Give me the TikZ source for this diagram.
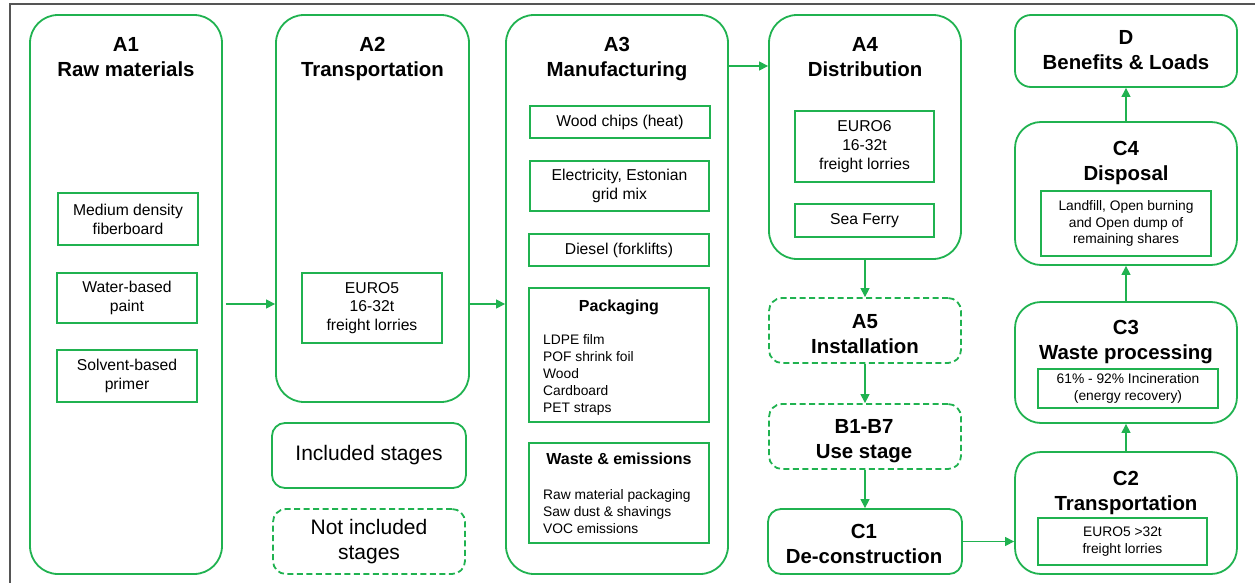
\documentclass[tikz,border=0pt]{standalone}
\usepackage{fontspec}
\setmainfont{Liberation Sans}
\usetikzlibrary{arrows.meta,calc}
\definecolor{grn}{RGB}{32,178,80}
\definecolor{framec}{RGB}{85,85,85}
\begin{document}
\begin{tikzpicture}[x=1pt,y=-1pt,
  bigbox/.style={draw=grn, line width=1.8pt, rounded corners=28pt, inner sep=0pt},
  midbox/.style={draw=grn, line width=1.8pt, rounded corners=13pt, inner sep=0pt},
  dashbox/.style={midbox, dash pattern=on 6pt off 3.5pt},
  inbox/.style={draw=grn, line width=1.8pt, inner sep=0pt, align=center, font=\fontsize{15.7}{18.8}\selectfont},
  inboxs/.style={draw=grn, line width=1.8pt, inner sep=0pt, align=center, font=\fontsize{13.8}{16.8}\selectfont},
  ttl/.style={font=\fontsize{20.4}{25}\selectfont\bfseries, align=center, anchor=base, inner sep=0pt},
  subttl/.style={font=\fontsize{16}{19}\selectfont\bfseries, anchor=base, inner sep=0pt},
  lst/.style={font=\fontsize{13.8}{16.8}\selectfont, align=left, anchor=base west, inner sep=0pt},
  legtxt/.style={font=\fontsize{21}{25}\selectfont, align=center},
  arr/.style={draw=grn, line width=1.2pt, -{Triangle[length=9pt,width=9pt]}}
]
\useasboundingbox (0,0) rectangle (1255,583);
\draw[framec, line width=2.2pt] (10,583) -- (10,4) -- (1255,4);

% big boxes
\node[bigbox, minimum width=192pt, minimum height=559pt] (A1) at (126,294.5) {};
\node[bigbox, minimum width=193pt, minimum height=387pt] (A2) at (372.5,208.5) {};
\node[bigbox, minimum width=222pt, minimum height=559pt] (A3) at (617,294.5) {};
\node[bigbox, minimum width=192pt, minimum height=244pt] (A4) at (865,137) {};
\node[dashbox, minimum width=192pt, minimum height=65pt] (A5) at (865,330.5) {};
\node[dashbox, minimum width=192pt, minimum height=65pt] (B) at (865,436.5) {};
\node[midbox, minimum width=194pt, minimum height=65pt] (C1) at (865,541.5) {};
\node[midbox, rounded corners=16pt, minimum width=222pt, minimum height=72pt] (D) at (1126,51) {};
\node[bigbox, rounded corners=26pt, minimum width=222pt, minimum height=143pt] (C4) at (1126,193.5) {};
\node[bigbox, rounded corners=26pt, minimum width=222pt, minimum height=121pt] (C3) at (1126,362.5) {};
\node[bigbox, rounded corners=26pt, minimum width=222pt, minimum height=122pt] (C2) at (1126,513) {};

% legend
\node[midbox, legtxt, minimum width=194pt, minimum height=65pt] (inc) at (369,455.5) {Included stages};
\node[dashbox, legtxt, minimum width=192pt, minimum height=65pt] (ninc) at (369,541.5) {Not included\\stages};

% titles (anchored at the baseline of their last line)
\node[ttl] (tA1) at (126,77) {A1\\Raw materials};
\node[ttl] (tA2) at (372.5,77) {A2\\Transportation};
\node[ttl] (tA3) at (617,77) {A3\\Manufacturing};
\node[ttl] (tA4) at (865,77) {A4\\Distribution};
\node[ttl] (tA5) at (865,353) {A5\\Installation};
\node[ttl] (tB) at (864,458) {B1-B7\\Use stage};
\node[ttl] (tC1) at (864,563) {C1\\De-construction};
\node[ttl] (tD) at (1126,70) {D\\Benefits \& Loads};
\node[ttl] (tC4) at (1126,180) {C4\\Disposal};
\node[ttl] (tC3) at (1126,359) {C3\\Waste processing};
\node[ttl] (tC2) at (1126,510) {C2\\Transportation};

% inner boxes
\node[inbox, minimum width=140pt, minimum height=52pt] (md) at (128,219) {Medium density\\fiberboard};
\node[inbox, minimum width=140pt, minimum height=50pt] (wb) at (127,298) {Water-based\\paint};
\node[inbox, minimum width=140pt, minimum height=52pt] (sb) at (127,376) {Solvent-based\\primer};
\node[inbox, minimum width=140pt, minimum height=70pt] (a2in) at (372,308) {EURO5\\16-32t\\freight lorries};
\node[inbox, minimum width=180pt, minimum height=32pt] (wc) at (620,122) {Wood chips (heat)};
\node[inbox, minimum width=179pt, minimum height=50pt] (el) at (619.5,186) {Electricity, Estonian\\grid mix};
\node[inbox, minimum width=180pt, minimum height=32pt] (di) at (619,250) {Diesel (forklifts)};
\node[inbox, minimum width=180pt, minimum height=134pt] (pk) at (619,355) {};
\node[subttl] (pkh) at (619,311) {Packaging};
\node[lst] (pkl) at (543,412) {LDPE film\\POF shrink foil\\Wood\\Cardboard\\PET straps};
\node[inbox, minimum width=180pt, minimum height=100pt] (we) at (619,493) {};
\node[subttl] (weh) at (619,464) {Waste \& emissions};
\node[lst] (wel) at (543,533) {Raw material packaging\\Saw dust \& shavings\\VOC emissions};
\node[inbox, minimum width=139pt, minimum height=71pt] (e6) at (864.5,146.5) {EURO6\\16-32t\\freight lorries};
\node[inbox, minimum width=139pt, minimum height=33pt] (sf) at (864.5,220.5) {Sea Ferry};
\node[inboxs, minimum width=170pt, minimum height=65pt] (c4in) at (1126,223.5) {Landfill, Open burning\\and Open dump of\\remaining shares};
\node[inboxs, minimum width=180pt, minimum height=39pt] (c3in) at (1128,388.5) {61\% - 92\% Incineration\\(energy recovery)};
\node[inboxs, minimum width=169pt, minimum height=47pt] (c2in) at (1122.5,541.5) {EURO5 >32t\\freight lorries};

% connectors
\coordinate (y1) at (0,304);
\coordinate (y2) at (0,66);
\draw[arr, shorten <=3pt] (A1.east |- y1) -- (A2.west |- y1);
\draw[arr] (A2.east |- y1) -- (A3.west |- y1);
\draw[arr] (A3.east |- y2) -- (A4.west |- y2);
\draw[arr] (A4.south) -- (A5.north);
\draw[arr] (A5.south) -- (B.north);
\draw[arr] (B.south) -- (C1.north);
\draw[arr] (C1.east) -- (C2.west |- C1.east);
\draw[arr] (C2.north) -- (C3.south);
\draw[arr] (C3.north) -- (C4.south);
\draw[arr] (C4.north) -- (D.south);
\end{tikzpicture}
\end{document}
